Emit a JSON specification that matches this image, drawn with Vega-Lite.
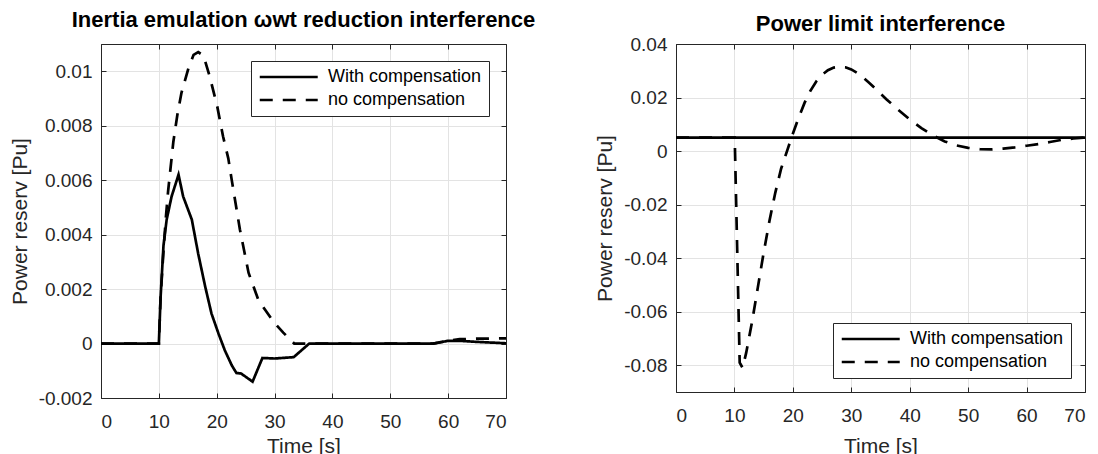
{
  "$schema": "https://vega.github.io/schema/vega-lite/v6.json",
  "autosize": {"type": "pad"},
  "padding": {"left": 8, "top": 8, "right": 0, "bottom": 0},
  "background": "white",
  "config": {
    "font": "Liberation Sans",
    "view": {"stroke": "#262626", "strokeWidth": 1},
    "axis": {
      "labelFont": "Liberation Sans", "labelFontSize": 19, "labelColor": "#262626",
      "titleFont": "Liberation Sans", "titleFontSize": 21, "titleFontWeight": "normal", "titleColor": "#262626",
      "domainColor": "#262626", "tickColor": "#262626", "gridColor": "#e3e3e3", "gridWidth": 1,
      "tickSize": -5, "labelPadding": 14
    },
    "axisX": {"labelPadding": 19},
    "title": {"font": "Liberation Sans", "fontSize": 22, "fontWeight": "bold", "color": "#000000", "anchor": "middle"},
    "legend": {
      "fillColor": "white", "strokeColor": "#262626", "padding": 7, "rowPadding": 5,
      "symbolType": "M-1,0H7", "symbolSize": 210, "symbolStrokeWidth": 2.7, "symbolStrokeColor": "black",
      "labelFont": "Liberation Sans", "labelFontSize": 18, "labelColor": "#000000", "labelOffset": 52,
      "title": null
    }
  },
  "datasets": {
    "left": [
      {"series": "With compensation", "t": 0, "v": 0},
      {"series": "With compensation", "t": 10, "v": 0},
      {"series": "With compensation", "t": 10.3, "v": 0.0017},
      {"series": "With compensation", "t": 10.8, "v": 0.0036},
      {"series": "With compensation", "t": 11.35, "v": 0.00455},
      {"series": "With compensation", "t": 12.2, "v": 0.0054},
      {"series": "With compensation", "t": 13.4, "v": 0.0062},
      {"series": "With compensation", "t": 14.2, "v": 0.0054},
      {"series": "With compensation", "t": 15.7, "v": 0.00455},
      {"series": "With compensation", "t": 16.8, "v": 0.0033},
      {"series": "With compensation", "t": 18, "v": 0.0021},
      {"series": "With compensation", "t": 19.1, "v": 0.0011},
      {"series": "With compensation", "t": 20.3, "v": 0.00037},
      {"series": "With compensation", "t": 21.4, "v": -0.00025},
      {"series": "With compensation", "t": 22.6, "v": -0.0008},
      {"series": "With compensation", "t": 23.4, "v": -0.00108},
      {"series": "With compensation", "t": 24.2, "v": -0.0011},
      {"series": "With compensation", "t": 26.2, "v": -0.0014},
      {"series": "With compensation", "t": 27.9, "v": -0.00053},
      {"series": "With compensation", "t": 30, "v": -0.00055},
      {"series": "With compensation", "t": 33.3, "v": -0.0005},
      {"series": "With compensation", "t": 36, "v": 0},
      {"series": "With compensation", "t": 57.4, "v": 0},
      {"series": "With compensation", "t": 60, "v": 0.0001},
      {"series": "With compensation", "t": 62, "v": 0.0001},
      {"series": "With compensation", "t": 65, "v": 0.00006},
      {"series": "With compensation", "t": 68, "v": 0.00003},
      {"series": "With compensation", "t": 70, "v": 0.00001},
      {"series": "no compensation", "t": 0, "v": 0},
      {"series": "no compensation", "t": 10, "v": 0},
      {"series": "no compensation", "t": 10.3, "v": 0.0017},
      {"series": "no compensation", "t": 10.8, "v": 0.0034},
      {"series": "no compensation", "t": 11.2, "v": 0.0046},
      {"series": "no compensation", "t": 11.6, "v": 0.0056},
      {"series": "no compensation", "t": 12.0, "v": 0.0064},
      {"series": "no compensation", "t": 12.5, "v": 0.0074},
      {"series": "no compensation", "t": 13.2, "v": 0.0084},
      {"series": "no compensation", "t": 13.9, "v": 0.0092},
      {"series": "no compensation", "t": 15.1, "v": 0.0101},
      {"series": "no compensation", "t": 16.0, "v": 0.0106},
      {"series": "no compensation", "t": 16.8, "v": 0.0107},
      {"series": "no compensation", "t": 17.7, "v": 0.01058},
      {"series": "no compensation", "t": 18.8, "v": 0.0098},
      {"series": "no compensation", "t": 20.1, "v": 0.0087},
      {"series": "no compensation", "t": 21.1, "v": 0.0076},
      {"series": "no compensation", "t": 22.0, "v": 0.0068},
      {"series": "no compensation", "t": 22.6, "v": 0.006},
      {"series": "no compensation", "t": 24.0, "v": 0.0042},
      {"series": "no compensation", "t": 25.5, "v": 0.0026},
      {"series": "no compensation", "t": 27.2, "v": 0.0016},
      {"series": "no compensation", "t": 29.8, "v": 0.0008},
      {"series": "no compensation", "t": 31.5, "v": 0.0004},
      {"series": "no compensation", "t": 33.4, "v": 0},
      {"series": "no compensation", "t": 57.5, "v": 0},
      {"series": "no compensation", "t": 60, "v": 0.0001},
      {"series": "no compensation", "t": 62, "v": 0.00016},
      {"series": "no compensation", "t": 65, "v": 0.00018},
      {"series": "no compensation", "t": 70, "v": 0.00019}
    ],
    "right": [
      {"series": "With compensation", "t": 0, "v": 0.005},
      {"series": "With compensation", "t": 70, "v": 0.005},
      {"series": "no compensation", "t": 0, "v": 0.005},
      {"series": "no compensation", "t": 10.05, "v": 0.005},
      {"series": "no compensation", "t": 10.9, "v": -0.079},
      {"series": "no compensation", "t": 11.4, "v": -0.081},
      {"series": "no compensation", "t": 12.0, "v": -0.0755},
      {"series": "no compensation", "t": 13.0, "v": -0.064},
      {"series": "no compensation", "t": 14.0, "v": -0.051},
      {"series": "no compensation", "t": 15.0, "v": -0.038},
      {"series": "no compensation", "t": 16.0, "v": -0.026},
      {"series": "no compensation", "t": 17.0, "v": -0.0155},
      {"series": "no compensation", "t": 18.0, "v": -0.0065},
      {"series": "no compensation", "t": 19.0, "v": 0.0},
      {"series": "no compensation", "t": 20.0, "v": 0.0065},
      {"series": "no compensation", "t": 21.0, "v": 0.0125},
      {"series": "no compensation", "t": 22.0, "v": 0.018},
      {"series": "no compensation", "t": 23.0, "v": 0.0225},
      {"series": "no compensation", "t": 24.0, "v": 0.026},
      {"series": "no compensation", "t": 25.0, "v": 0.0285},
      {"series": "no compensation", "t": 26.0, "v": 0.0302},
      {"series": "no compensation", "t": 27.0, "v": 0.0312},
      {"series": "no compensation", "t": 28.0, "v": 0.0315},
      {"series": "no compensation", "t": 29.0, "v": 0.0313},
      {"series": "no compensation", "t": 30.0, "v": 0.0305},
      {"series": "no compensation", "t": 31.0, "v": 0.0292},
      {"series": "no compensation", "t": 32.0, "v": 0.0275},
      {"series": "no compensation", "t": 33.0, "v": 0.0256},
      {"series": "no compensation", "t": 34.0, "v": 0.0236},
      {"series": "no compensation", "t": 35.0, "v": 0.0215},
      {"series": "no compensation", "t": 36.0, "v": 0.0194},
      {"series": "no compensation", "t": 38.0, "v": 0.0155},
      {"series": "no compensation", "t": 40.0, "v": 0.0118},
      {"series": "no compensation", "t": 42.0, "v": 0.0086},
      {"series": "no compensation", "t": 44.0, "v": 0.0058},
      {"series": "no compensation", "t": 46.0, "v": 0.0036},
      {"series": "no compensation", "t": 48.0, "v": 0.0021},
      {"series": "no compensation", "t": 50.0, "v": 0.0012},
      {"series": "no compensation", "t": 52.0, "v": 0.0007},
      {"series": "no compensation", "t": 54.0, "v": 0.0006},
      {"series": "no compensation", "t": 56.0, "v": 0.0009},
      {"series": "no compensation", "t": 58.0, "v": 0.0014},
      {"series": "no compensation", "t": 60.0, "v": 0.002},
      {"series": "no compensation", "t": 62.0, "v": 0.0026},
      {"series": "no compensation", "t": 64.0, "v": 0.0034},
      {"series": "no compensation", "t": 66.0, "v": 0.0042},
      {"series": "no compensation", "t": 68.0, "v": 0.0047},
      {"series": "no compensation", "t": 70.0, "v": 0.0051}
    ]
  },
  "bounds": "flush",
  "spacing": 170,
  "hconcat": [
    {
      "width": 405,
      "height": 354,
      "title": {"text": "Inertia emulation ωwt reduction interference", "baseline": "alphabetic", "offset": -5},
      "data": {"name": "left"},
      "layer": [
        {
          "mark": {"type": "line", "strokeWidth": 2.7, "color": "black"},
          "encoding": {
            "x": {"field": "t", "type": "quantitative", "scale": {"domain": [0, 70], "nice": false},
                  "axis": {"title": "Time [s]", "values": [0, 10, 20, 30, 40, 50, 60, 70], "grid": true, "titlePadding": 4}},
            "y": {"field": "v", "type": "quantitative", "scale": {"domain": [-0.002, 0.011], "nice": false, "zero": false},
                  "axis": {"title": "Power reserv [Pu]", "values": [-0.002, 0, 0.002, 0.004, 0.006, 0.008, 0.01], "grid": true, "titlePadding": 8,
                           "labelExpr": "datum.value < 0 ? '-' + format(-datum.value, '~g') : format(datum.value, '~g')"}},
            "strokeDash": {"field": "series", "type": "nominal",
                           "scale": {"domain": ["With compensation", "no compensation"], "range": [[1, 0], [13, 10]]},
                           "legend": {"orient": "top-right", "offset": 17}}
          }
        },
        {
          "mark": {"type": "point", "opacity": 0},
          "encoding": {
            "x": {"field": "t", "type": "quantitative", "axis": {"orient": "top", "labels": false, "title": null, "grid": false, "values": [0, 10, 20, 30, 40, 50, 60, 70]}},
            "y": {"field": "v", "type": "quantitative", "axis": {"orient": "right", "labels": false, "title": null, "grid": false, "values": [-0.002, 0, 0.002, 0.004, 0.006, 0.008, 0.01]}}
          }
        }
      ],
      "resolve": {"axis": {"x": "independent", "y": "independent"}}
    },
    {
      "width": 409,
      "height": 348,
      "title": {"text": "Power limit interference", "baseline": "alphabetic", "offset": -18},
      "data": {"name": "right"},
      "layer": [
        {
          "mark": {"type": "line", "strokeWidth": 2.7, "color": "black"},
          "encoding": {
            "x": {"field": "t", "type": "quantitative", "scale": {"domain": [0, 70], "nice": false},
                  "axis": {"title": "Time [s]", "values": [0, 10, 20, 30, 40, 50, 60, 70], "grid": true, "titlePadding": 10}},
            "y": {"field": "v", "type": "quantitative", "scale": {"domain": [-0.09, 0.04], "nice": false, "zero": false},
                  "axis": {"title": "Power reserv [Pu]", "values": [-0.08, -0.06, -0.04, -0.02, 0, 0.02, 0.04], "grid": true, "titlePadding": 8,
                           "labelExpr": "datum.value < 0 ? '-' + format(-datum.value, '~g') : format(datum.value, '~g')"}},
            "strokeDash": {"field": "series", "type": "nominal",
                           "scale": {"domain": ["With compensation", "no compensation"], "range": [[1, 0], [13, 10]]},
                           "legend": {"orient": "bottom-right", "offset": 14}}
          }
        },
        {
          "mark": {"type": "point", "opacity": 0},
          "encoding": {
            "x": {"field": "t", "type": "quantitative", "axis": {"orient": "top", "labels": false, "title": null, "grid": false, "values": [0, 10, 20, 30, 40, 50, 60, 70]}},
            "y": {"field": "v", "type": "quantitative", "axis": {"orient": "right", "labels": false, "title": null, "grid": false, "values": [-0.08, -0.06, -0.04, -0.02, 0, 0.02, 0.04]}}
          }
        }
      ],
      "resolve": {"axis": {"x": "independent", "y": "independent"}}
    }
  ],
  "resolve": {"scale": {"x": "independent", "y": "independent", "strokeDash": "independent"}, "legend": {"strokeDash": "independent"}}
}
